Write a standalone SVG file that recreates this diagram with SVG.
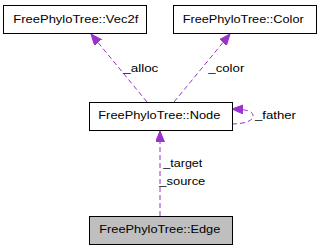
<svg xmlns="http://www.w3.org/2000/svg" width="320" height="251" viewBox="0 0 320 251">
  <style>
    .box { fill: #ffffff; stroke: #000000; stroke-width: 1; }
    .box.current { fill: #bfbfbf; }
    .label { font-family: "Liberation Sans", Arial, sans-serif; font-size: 11px; fill: #000000; }
    .edge { fill: none; stroke: #9a32cd; stroke-width: 1; stroke-dasharray: 5,3; marker-end: url(#arrow); }
  </style>
  <defs>
    <marker id="arrow" markerUnits="userSpaceOnUse" markerWidth="13" markerHeight="11" refX="11" refY="4.5" orient="auto">
      <path d="M0,0 L11,4.5 L0,9 z" fill="#9a32cd" stroke="#9a32cd" stroke-width="1"/>
    </marker>
  </defs>
  <rect width="320" height="251" fill="#ffffff"/>

  <g id="connectors">
    <path class="edge" d="M147,102 L91,34"/>
    <text class="label" x="123.3" y="71.7" textLength="35" lengthAdjust="spacingAndGlyphs">_alloc</text>
    <path class="edge" d="M174,102 L230,34"/>
    <text class="label" x="208.3" y="71.7" textLength="36" lengthAdjust="spacingAndGlyphs">_color</text>
    <path class="edge" d="M232,124 C241,124 253,122 253,116 C253,111 247,109.5 232,109"/>
    <text class="label" x="255" y="119.3" textLength="41" lengthAdjust="spacingAndGlyphs">_father</text>
    <path class="edge" d="M160,216 L160,131"/>
    <text class="label" x="163.3" y="167.3" textLength="39" lengthAdjust="spacingAndGlyphs">_target</text>
    <text class="label" x="159.3" y="185" textLength="46" lengthAdjust="spacingAndGlyphs">_source</text>
  </g>

  <g id="node-vec2f">
    <rect class="box" x="3.5" y="5.5" width="143" height="28"/>
    <text class="label" x="13.3" y="22.7" textLength="125" lengthAdjust="spacingAndGlyphs">FreePhyloTree::Vec2f</text>
  </g>
  <g id="node-color">
    <rect class="box" x="173.5" y="5.5" width="143" height="28"/>
    <text class="label" x="182.7" y="22.7" textLength="121" lengthAdjust="spacingAndGlyphs">FreePhyloTree::Color</text>
  </g>
  <g id="node-node">
    <rect class="box" x="89.5" y="102.5" width="143" height="28"/>
    <text class="label" x="98.3" y="118.7" textLength="122" lengthAdjust="spacingAndGlyphs">FreePhyloTree::Node</text>
  </g>
  <g id="node-edge">
    <rect class="box current" x="89.5" y="216.5" width="143" height="28"/>
    <text class="label" x="99.3" y="233.3" textLength="121" lengthAdjust="spacingAndGlyphs">FreePhyloTree::Edge</text>
  </g>
</svg>
